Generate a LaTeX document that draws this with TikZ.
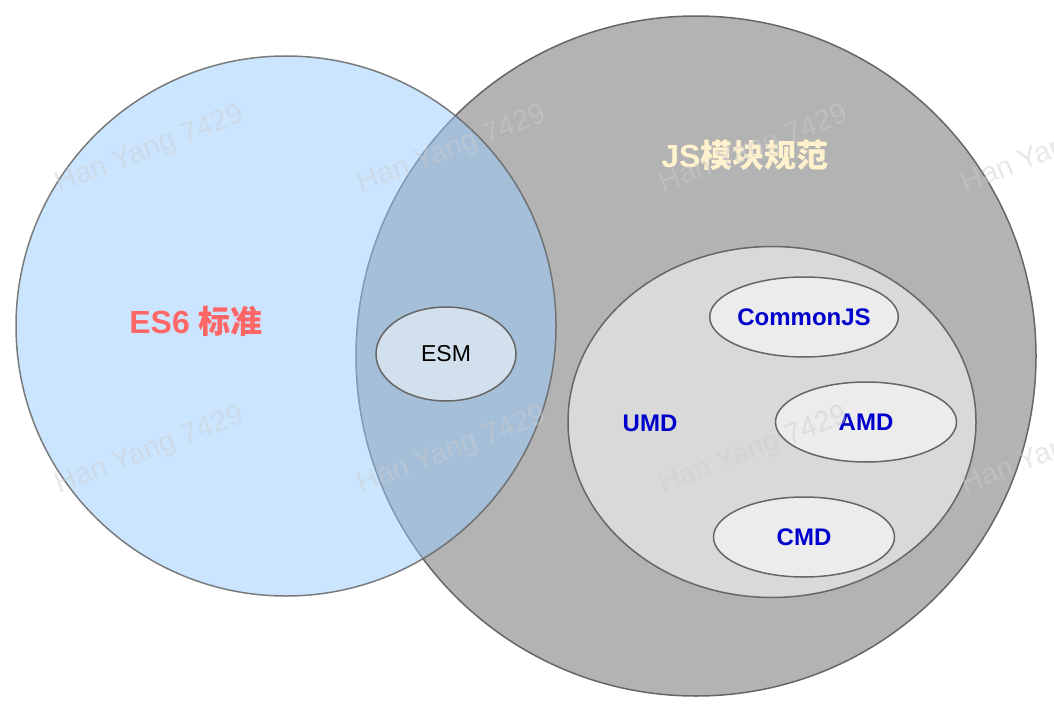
\documentclass[tikz,border=0pt]{standalone}
\usepackage{fontspec}
\setmainfont{Liberation Sans}
\newfontfamily\cjk{Noto Sans CJK SC}
\usetikzlibrary{shapes.geometric}
\definecolor{esblue}{HTML}{99CCFF}
\definecolor{jsgray}{HTML}{B3B3B3}
\definecolor{rim}{HTML}{666666}
\definecolor{esred}{HTML}{FF6666}
\definecolor{jscream}{HTML}{FFF2CC}
\definecolor{modblue}{HTML}{0000CC}

\begin{document}
\begin{tikzpicture}[
  x=1pt, y=-1pt,
  set/.style={
    circle,
    draw=rim,
    line width=1.5pt,
    inner sep=0pt,
  },
  part/.style={
    ellipse,
    draw=rim,
    line width=1.5pt,
    inner sep=0pt,
    fill=white,
    fill opacity=0.5,
    text opacity=1,
  },
  modname/.style={text=modblue, font=\fontsize{24}{28}\selectfont\bfseries},
  settitle/.style={font=\fontsize{32}{38}\selectfont\bfseries},
  wmark/.style={text=black!20, opacity=0.45, rotate=21,
    font=\fontsize{29}{34}\selectfont},
]
\useasboundingbox (0,0) rectangle (1054,714);

% ---- the big grey set, with the module formats inside ---------------------
\node[set, fill=jsgray, minimum size=680pt] (jsset) at (696,356) {};
\node[part, minimum width=408pt, minimum height=351pt] (umdset) at (772,422) {};
\node[part, modname, minimum width=181pt, minimum height=80pt] (cjs) at (804,317) {CommonJS};
\node[part, modname, minimum width=181pt, minimum height=80pt] (amd) at (866,422) {AMD};
\node[part, modname, minimum width=181pt, minimum height=80pt] (cmd) at (804,537) {CMD};

% ---- the blue set, laid over it so the overlap shows ----------------------
\node[set, fill=esblue, fill opacity=0.5, draw opacity=0.85,
  minimum size=540pt] (esset) at (286,326) {};
\node[part, minimum width=140pt, minimum height=94pt,
  font=\fontsize{23}{27}\selectfont] (esm) at (446,354) {ESM};

% ---- set titles -----------------------------------------------------------
\node[settitle, text=esred] (estitle) at (196,321) {ES6 {\cjk 标准}};
\node[settitle, text=jscream] (jstitle) at (745,155) {JS{\cjk 模块规范}};
\node[modname] (umd) at (650,423) {UMD};

% ---- watermark ------------------------------------------------------------
\node[wmark] (wm1) at (150,150) {Han Yang 7429};
\node[wmark] (wm2) at (452,150) {Han Yang 7429};
\node[wmark] (wm3) at (754,150) {Han Yang 7429};
\node[wmark] (wm4) at (1056,150) {Han Yang 7429};
\node[wmark] (wm5) at (150,451) {Han Yang 7429};
\node[wmark] (wm6) at (452,451) {Han Yang 7429};
\node[wmark] (wm7) at (754,451) {Han Yang 7429};
\node[wmark] (wm8) at (1056,451) {Han Yang 7429};

\end{tikzpicture}
\end{document}
